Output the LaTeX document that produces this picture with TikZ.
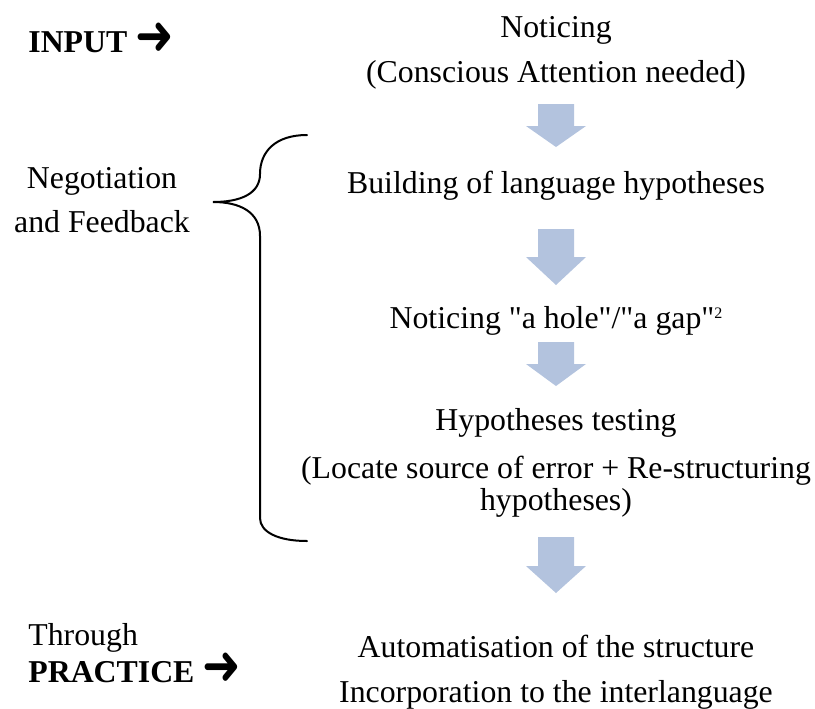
\documentclass[tikz,border=0pt]{standalone}
\usepackage{fontspec}
\usepackage{graphicx}
\setmainfont{Liberation Serif}[Ligatures=TeXOff]
\newfontfamily\arrowfont{DejaVu Sans}
\usepackage{tikz}
\usetikzlibrary{calc, positioning}
\definecolor{arrowblue}{RGB}{179,195,222}
\newcommand{\heavyarrow}{\raisebox{-1pt}{\scalebox{1}[1.2]{\arrowfont\fontsize{23}{23}\selectfont ➜}}}
\newcommand{\smalltwo}{\raisebox{5pt}{\fontsize{8}{8}\selectfont 2}}
\tikzset{
x=0.5pt, y=-0.5pt, % one unit is one pixel of the picture
txt/.style={inner sep=0pt, anchor=base, font=\fontsize{15.9}{18}\selectfont},
lefttxt/.style={txt, anchor=base west},
brace/.style={line width=1pt, line cap=round},
pics/dnarrow/.style 2 args={code={% block arrow, #1 = start of head, #2 = length
  \fill[arrowblue] (-18,0) -- (18,0) -- (18,#1) -- (30,#1) -- (0,#2)
    -- (-30,#1) -- (-18,#1) -- cycle;
}},
}

\begin{document}
\begin{tikzpicture}
  \useasboundingbox (0,0) rectangle (815,708);

  % left column
  \node[lefttxt] (input) at (28,52) {\bfseries INPUT \heavyarrow};
  \node[txt] (neg) at (102,188) {Negotiation};
  \node[txt] (feed) at (102,232) {and Feedback};
  \node[lefttxt] (through) at (28,645) {Through};
  \node[lefttxt] (practice) at (28,682) {\bfseries PRACTICE \heavyarrow};

  % the stages
  \node[txt] (notice) at (556,37) {Noticing};
  \node[txt] (attn) at (556,82) {(Conscious Attention needed)};
  \node[txt] (build) at (556,193) {Building of language hypotheses};
  \node[txt] (gap) at (556,328) {Noticing "a hole"/"a gap"\smalltwo};
  \node[txt] (test) at (556,430) {Hypotheses testing};
  \node[txt] (locate) at (556,478) {(Locate source of error + Re-structuring};
  \node[txt] (locate2) at (556,510) {hypotheses)};
  \node[txt] (auto) at (556,657) {Automatisation of the structure};
  \node[txt] (incorp) at (556,702) {Incorporation to the interlanguage};

  % block arrows between the stages
  \pic at (556,104) {dnarrow={22}{43}};
  \pic at (556,229) {dnarrow={28}{56}};
  \pic at (556,342) {dnarrow={22}{44}};
  \pic at (556,537) {dnarrow={29}{56}};

  % brace
  \coordinate (tip) at (213,202);
  \draw[brace] (307,135) .. controls (275,135) and (260,152) .. (260,174)
    .. controls (260,194) and (240,202) .. (tip)
    .. controls (240,202) and (260,212) .. (260,236) -- (260,518)
    .. controls (260,532) and (278,541) .. (307,541);
\end{tikzpicture}
\end{document}
